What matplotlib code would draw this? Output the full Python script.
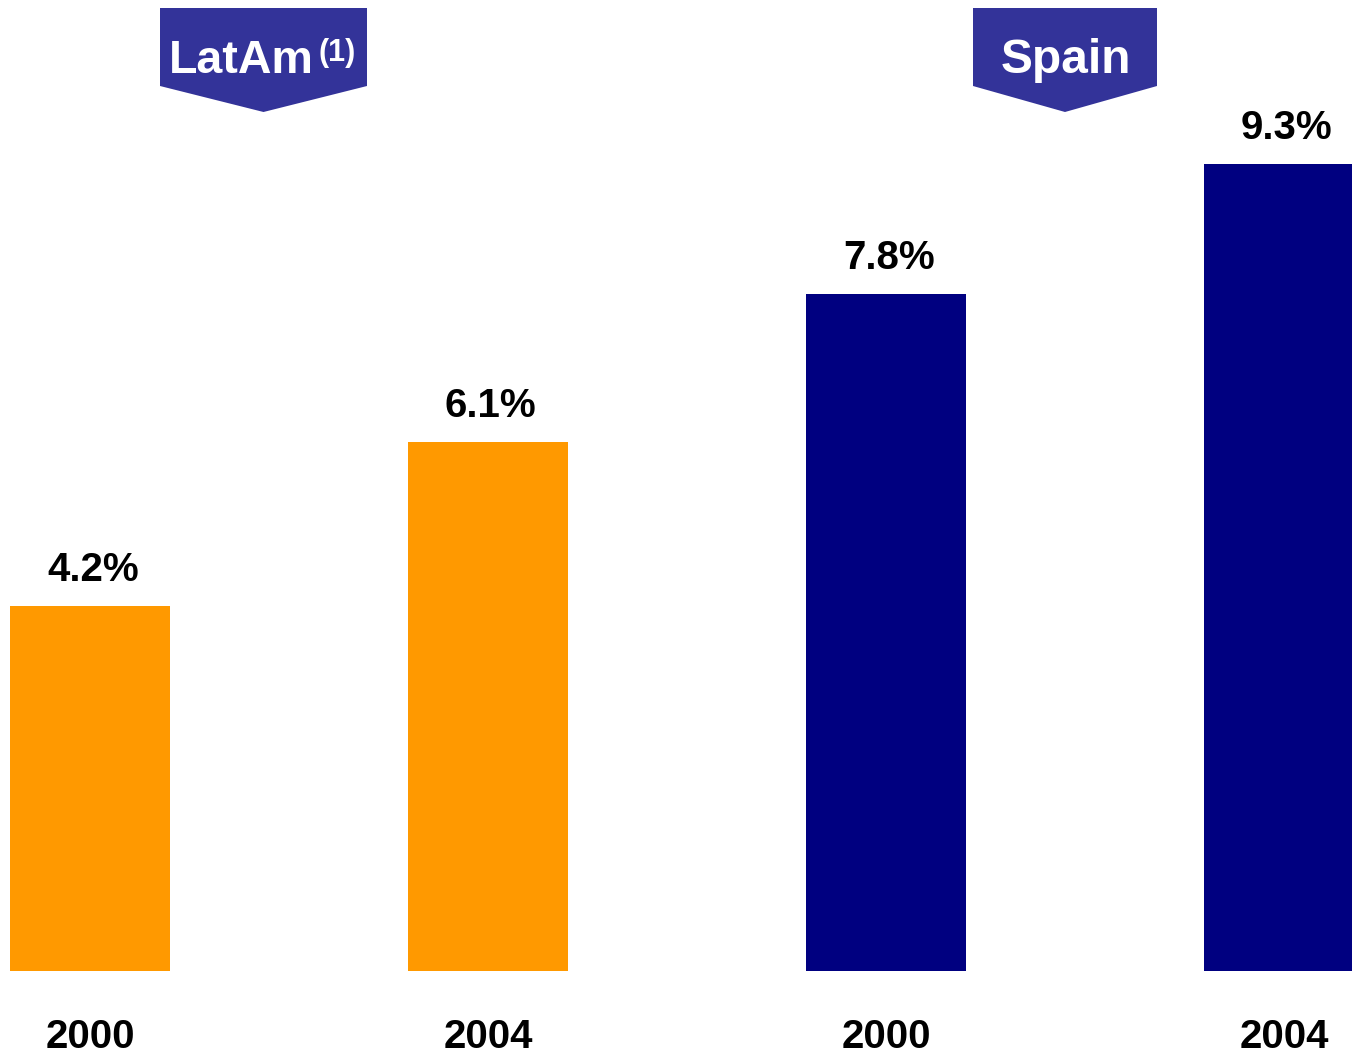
import matplotlib
matplotlib.use("Agg")
import matplotlib.pyplot as plt
from matplotlib.patches import Polygon

years = ["2000", "2004", "2000", "2004"]
values = [4.2, 6.1, 7.8, 9.3]
colors = ["#FF9900", "#FF9900", "#000080", "#000080"]
regions = ["LatAm", "Spain"]

W, H = 1352, 1052
fig = plt.figure(figsize=(W / 100, H / 100), dpi=100)
plt.rcParams['font.family'] = ['Liberation Sans', 'DejaVu Sans']

bottom_px = 971
ax = fig.add_axes([0, (H - bottom_px) / H, 1, bottom_px / H])
ax.set_axis_off()
x = list(range(len(values)))
ax.bar(x, values, width=160 / 398, color=colors)
ax.set_xlim(-90 / 398, (W - 90) / 398)
ax.set_ylim(0, bottom_px / 86.8)

for xi, v in zip(x, values):
    ax.annotate(f"{v:.1f}%", (xi, v), xytext=(2, 18), textcoords="offset points",
                ha="center", va="baseline", fontsize=29, fontweight="bold", color="black")

for xi, yr in zip(x, years):
    ax.annotate(yr, (xi, 0), xytext=(0, -55.4), textcoords="offset points",
                ha="center", va="baseline", fontsize=29, fontweight="bold", color="black",
                annotation_clip=False)

def fx(px):
    return px / W

def fy(py):
    return 1 - py / H

banner_color = "#333399"
for (l, r) in [(160, 367), (973, 1157)]:
    c = (l + r) / 2
    pts = [(fx(l), fy(8)), (fx(r), fy(8)), (fx(r), fy(86)), (fx(c), fy(112)), (fx(l), fy(86))]
    fig.patches.append(Polygon(pts, closed=True, transform=fig.transFigure,
                               facecolor=banner_color, edgecolor="none"))

fig.text(fx(169), fy(73), regions[0], ha="left", va="baseline", fontsize=33.5,
         fontweight="bold", color="white")
fig.text(fx(318), fy(61), "(1)", ha="left", va="baseline", fontsize=22,
         fontweight="bold", color="white")
fig.text(fx(1066), fy(73), regions[1], ha="center", va="baseline", fontsize=34.5,
         fontweight="bold", color="white")

fig.savefig("out.png", dpi=100)
